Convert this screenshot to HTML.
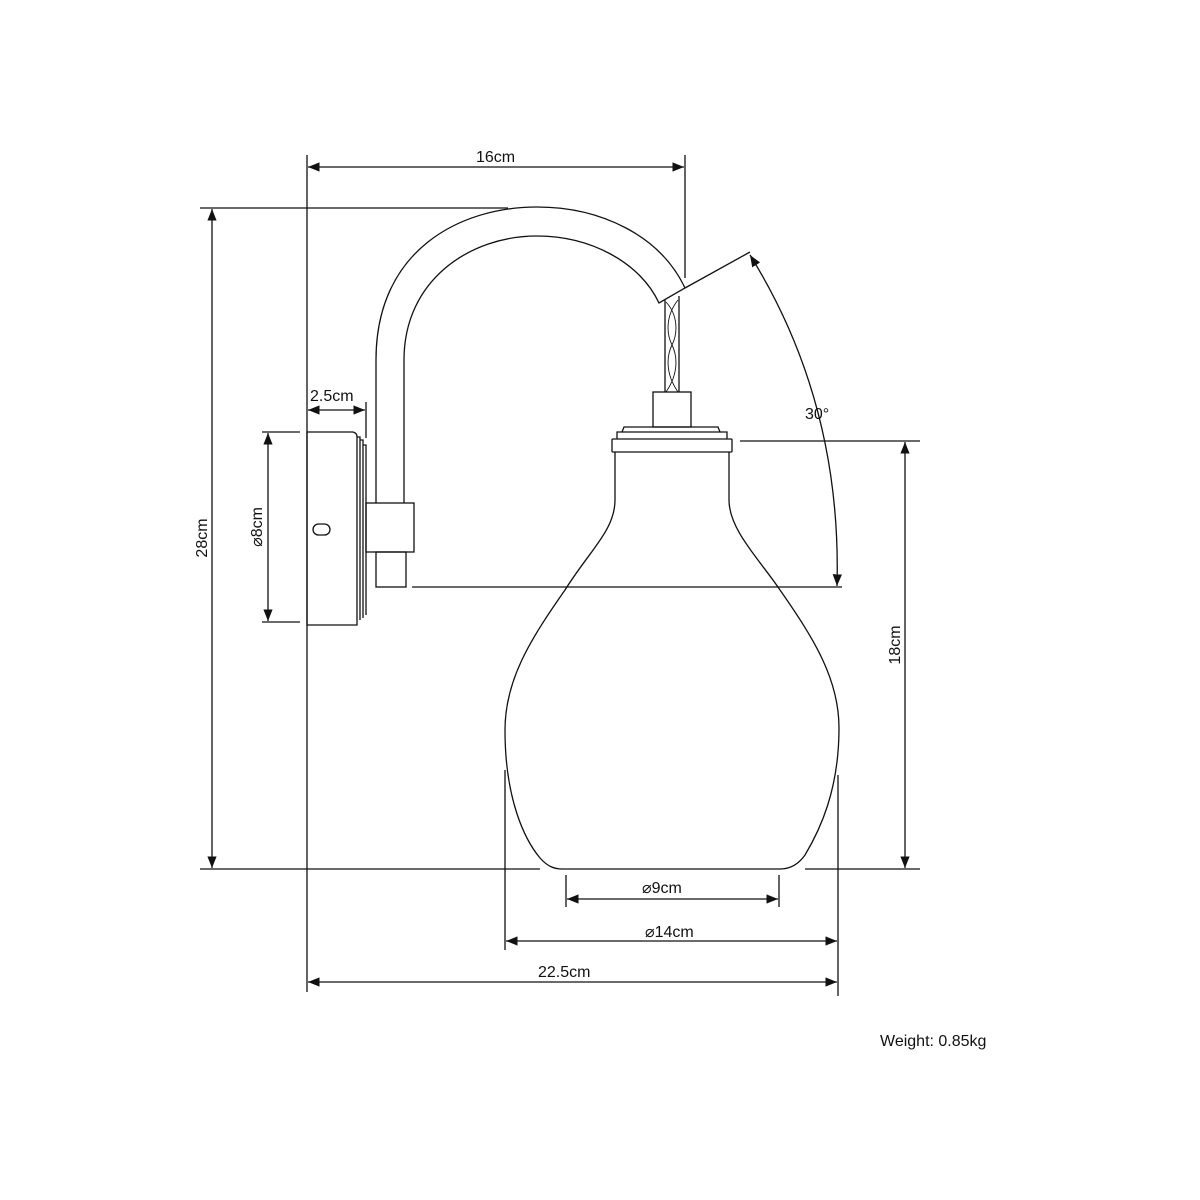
<!DOCTYPE html>
<html><head><meta charset="utf-8"><style>html,body{margin:0;padding:0;background:#fff}svg{display:block}text{font-family:"Liberation Sans",sans-serif;font-size:16px;fill:#111}</style></head><body>
<svg width="1200" height="1200" viewBox="0 0 1200 1200" xmlns="http://www.w3.org/2000/svg">
<defs><marker id="a" viewBox="0 0 10 10" refX="10" refY="5" markerWidth="9" markerHeight="9" orient="auto-start-reverse"><path d="M0,1 L10,5 L0,9 z" fill="#111"/></marker></defs>
<g fill="none" stroke="#111" stroke-width="1.3">
<line x1="307" y1="155" x2="307" y2="992"/>
<line x1="685" y1="155" x2="685" y2="278"/>
<line x1="200" y1="208" x2="508" y2="208"/>
<line x1="200" y1="869" x2="540" y2="869"/>
<line x1="262" y1="432" x2="300" y2="432"/>
<line x1="262" y1="622" x2="300" y2="622"/>
<line x1="366" y1="402" x2="366" y2="438"/>
<line x1="740" y1="441" x2="920" y2="441"/>
<line x1="805" y1="869" x2="920" y2="869"/>
<line x1="412" y1="587" x2="842" y2="587"/>
<line x1="685" y1="288" x2="750" y2="252"/>
<line x1="566" y1="875" x2="566" y2="907"/>
<line x1="779" y1="875" x2="779" y2="907"/>
<line x1="505" y1="770" x2="505" y2="950"/>
<line x1="838" y1="775" x2="838" y2="996"/>
<line x1="308" y1="167" x2="684" y2="167" marker-start="url(#a)" marker-end="url(#a)"/>
<line x1="212" y1="209" x2="212" y2="868" marker-start="url(#a)" marker-end="url(#a)"/>
<line x1="308" y1="410" x2="365" y2="410" marker-start="url(#a)" marker-end="url(#a)"/>
<line x1="268" y1="433" x2="268" y2="621" marker-start="url(#a)" marker-end="url(#a)"/>
<line x1="905" y1="442" x2="905" y2="868" marker-start="url(#a)" marker-end="url(#a)"/>
<line x1="567" y1="899" x2="778" y2="899" marker-start="url(#a)" marker-end="url(#a)"/>
<line x1="506" y1="941" x2="837" y2="941" marker-start="url(#a)" marker-end="url(#a)"/>
<line x1="308" y1="982" x2="837" y2="982" marker-start="url(#a)" marker-end="url(#a)"/>
<path d="M750,255 Q842,403 837,586" marker-start="url(#a)" marker-end="url(#a)"/>
<path d="M307,432 L353,432 Q357,433 357,437 L357,625 L307,625 Z"/>
<path d="M357,437 L360,437 L360,620 M360,440 L363,440 L363,618 M363,445 L366,445 L366,615"/>
<rect x="313" y="524" width="17" height="11" rx="5.5"/>
<path d="M376,503 L376,360 C376,250 460,207 537,207 C600,207 660,235 685,288 L659,303 C640,262 590,236 537,236 C470,236 404,280 404,360 L404,503"/>
<rect x="366" y="503" width="48" height="49"/>
<rect x="376" y="552" width="30" height="35"/>
<line x1="665" y1="300" x2="665" y2="392"/><line x1="679" y1="296" x2="679" y2="392"/>
<path d="M666,302 C678,315 678,333 672,345 C666,357 666,375 678,392 M678,300 C666,315 666,333 672,345 C678,357 678,375 666,392" stroke-width="0.9"/>
<rect x="653" y="392" width="38" height="35"/>
<path d="M622,432 L624,427 L718,427 L720,432"/>
<path d="M617,439 L617,432 L727,432 L727,439"/>
<rect x="612" y="439" width="120" height="13" rx="1"/>
<path d="M615,452 L615,500 C615,530 590,550 565,590 C530,640 505,680 505,730 C505,800 525,840 540,858 C548,867 555,869 562,869 L780,869 C790,869 798,865 805,855 C820,830 839,790 839,728 C839,680 815,640 780,590 C760,560 729,530 729,500 L729,452"/>
</g>
<text x="476" y="162">16cm</text>
<text x="310" y="401">2.5cm</text>
<text x="805" y="419">30°</text>
<text x="642" y="893">⌀9cm</text>
<text x="645" y="937">⌀14cm</text>
<text x="538" y="977">22.5cm</text>
<text x="880" y="1046">Weight: 0.85kg</text>
<text transform="translate(207,538) rotate(-90)" text-anchor="middle">28cm</text>
<text transform="translate(262,527) rotate(-90)" text-anchor="middle">⌀8cm</text>
<text transform="translate(900,645) rotate(-90)" text-anchor="middle">18cm</text>
</svg>
</body></html>
